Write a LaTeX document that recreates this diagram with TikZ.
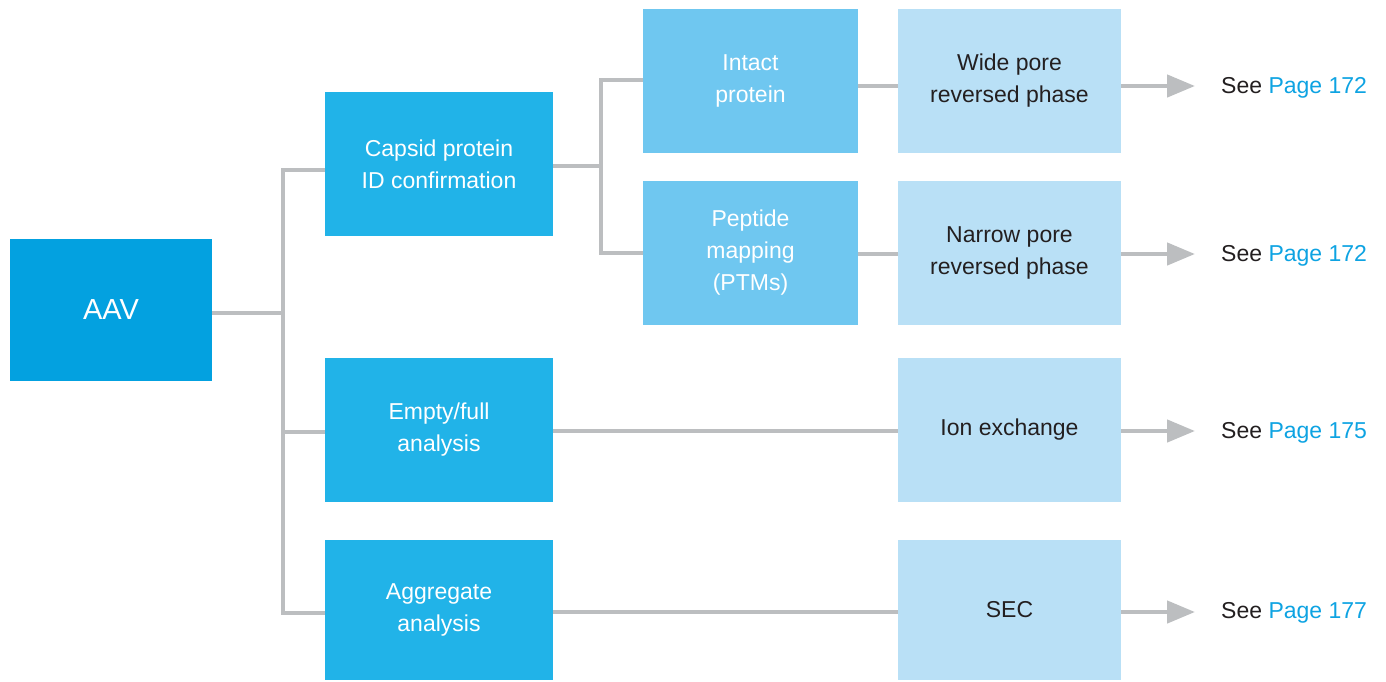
\documentclass[tikz,border=0pt]{standalone}
\usepackage{fontspec}
\setmainfont{Liberation Sans}
\usetikzlibrary{arrows.meta}
\definecolor{cA}{HTML}{03A1E0}
\definecolor{cB}{HTML}{21B3E8}
\definecolor{cC}{HTML}{6FC7F0}
\definecolor{cD}{HTML}{B9E0F6}
\definecolor{ln}{HTML}{BCBEC0}
\definecolor{lk}{HTML}{0EA3E2}
\definecolor{tx}{HTML}{231F20}
\begin{document}
\begin{tikzpicture}[x=1pt,y=-1pt,
  box/.style={inner sep=0pt,align=center,font=\fontsize{23}{32}\selectfont},
  lvA/.style={box,fill=cA,text=white,minimum width=202pt,minimum height=142pt,font=\fontsize{29}{32}\selectfont},
  lvB/.style={box,fill=cB,text=white,minimum width=228pt,minimum height=144pt},
  lvC/.style={box,fill=cC,text=white,minimum width=215pt,minimum height=144pt},
  lvD/.style={box,fill=cD,text=tx,minimum width=223pt,minimum height=144pt},
  conn/.style={draw=ln,line width=4.5pt},
  arr/.style={draw=ln,line width=4.5pt,-{Triangle[length=28pt,width=22pt]}},
  see/.style={anchor=west,inner sep=0pt,text=tx,font=\fontsize{23}{26}\selectfont}]
\useasboundingbox (0,0) rectangle (1386,681);
\node[lvA] (aav) at (111,310) {AAV};
\node[lvB] (cap) at (439,164) {Capsid protein\\ID confirmation};
\node[lvB] (emp) at (439,430) {Empty/full\\analysis};
\node[lvB,minimum height=140pt] (agg) at (439,610) {Aggregate\\analysis};
\node[lvC] (int) at (750.5,81) {Intact\\protein};
\node[lvC] (pep) at (750.5,253) {Peptide\\mapping\\(PTMs)};
\node[lvD] (wid) at (1009.5,81) {Wide pore\\reversed phase};
\node[lvD] (nar) at (1009.5,253) {Narrow pore\\reversed phase};
\node[lvD] (ion) at (1009.5,430) {Ion exchange};
\node[lvD,minimum height=140pt] (sec) at (1009.5,610) {SEC};
\coordinate (t1) at (1195,86);
\coordinate (t2) at (1195,254);
\coordinate (t3) at (1195,431);
\coordinate (t4) at (1195,612);
\node[see] (s1) at (1221,88) {See \textcolor{lk}{Page 172}};
\node[see] (s2) at (1221,256) {See \textcolor{lk}{Page 172}};
\node[see] (s3) at (1221,433) {See \textcolor{lk}{Page 175}};
\node[see] (s4) at (1221,613) {See \textcolor{lk}{Page 177}};
% trunk
\draw[conn] (aav.east |- 0,313) -- (283,313);
\draw[conn] (cap.west |- 0,170) -| (283,613) -- (agg.west |- 0,613);
\draw[conn] (283,432) -- (emp.west |- 0,432);
\draw[conn] (cap.east |- 0,166) -- (601,166);
\draw[conn] (int.west |- 0,80) -| (601,253) -- (pep.west |- 0,253);
\draw[conn] (int.east |- 0,86) -- (wid.west |- 0,86);
\draw[conn] (pep.east |- 0,254) -- (nar.west |- 0,254);
\draw[conn] (emp.east |- 0,431) -- (ion.west |- 0,431);
\draw[conn] (agg.east |- 0,612) -- (sec.west |- 0,612);
\draw[arr] (wid.east |- t1) -- (t1);
\draw[arr] (nar.east |- t2) -- (t2);
\draw[arr] (ion.east |- t3) -- (t3);
\draw[arr] (sec.east |- t4) -- (t4);
\end{tikzpicture}
\end{document}
